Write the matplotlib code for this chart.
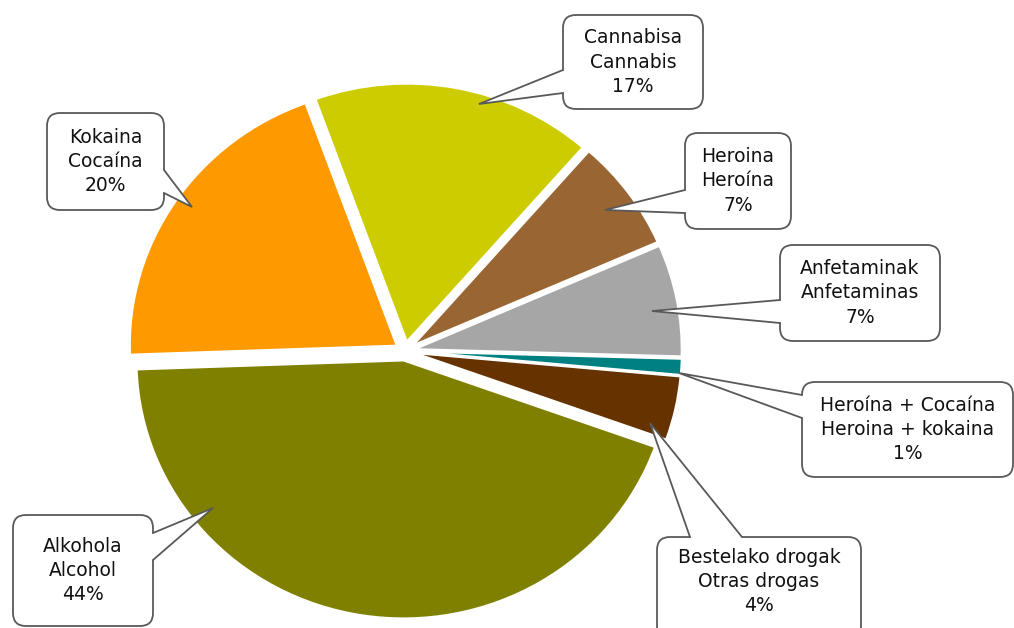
import matplotlib
matplotlib.use("Agg")
import matplotlib.pyplot as plt
from matplotlib.patches import FancyBboxPatch, Polygon

# data (clockwise from the top)
labels = ["Cannabisa\nCannabis", "Heroina\nHeroína", "Anfetaminak\nAnfetaminas",
          "Heroína + Cocaína\nHeroina + kokaina", "Bestelako drogak\nOtras drogas",
          "Alkohola\nAlcohol", "Kokaina\nCocaína"]
shares = [17, 7, 7, 1, 4, 44, 20]
colors = ["#CCCC00", "#996633", "#A6A6A6", "#008080", "#663300", "#808000", "#FF9900"]

# callout layout in pixels, origin at top left: box (left, top, right, bottom),
# two wedge base points on the box edge, and the tip inside the slice
W, H = 1014, 628
boxes = [(563, 15, 703, 109), (685, 133, 791, 229), (780, 245, 940, 341),
         (802, 382, 1013, 477), (657, 537, 861, 640), (13, 515, 153, 626),
         (47, 113, 164, 210)]
bases = [((563, 70), (563, 93)), ((685, 190), (685, 213)), ((780, 300), (780, 323)),
         ((802, 395), (802, 418)), ((690, 537), (742, 537)), ((153, 533), (153, 560)),
         ((164, 170), (164, 193))]
tips = [(479, 104), (605, 210), (652, 311), (679, 373), (650, 423), (213, 508), (192, 207)]

fig = plt.figure(figsize=(W / 100, H / 100), dpi=100)

# pie axes: the source pie is a touch wider than tall, so no equal aspect
cx, cy, sx, sy = 405, 351, 267, 258
pax = fig.add_axes([0, 0, 1, 1])
pax.pie(shares, colors=colors, radius=1, startangle=110, counterclock=False,
        explode=[0.037] * len(shares),
        wedgeprops=dict(edgecolor="white", linewidth=1.5), frame=True)
pax.set_aspect("auto")
pax.set_xlim(-cx / sx, (W - cx) / sx)
pax.set_ylim((cy - H) / sy, cy / sy)
pax.axis("off")

# overlay in pixel units for the callouts
ax = fig.add_axes([0, 0, 1, 1])
ax.set_xlim(0, W)
ax.set_ylim(0, H)
ax.axis("off")

edge = "#595959"
for lab, pct, (l, t, r, b), (p1, p2), tip in zip(labels, shares, boxes, bases, tips):
    box = FancyBboxPatch((l, H - b), r - l, b - t,
                         boxstyle="round,pad=0,rounding_size=13",
                         facecolor="white", edgecolor=edge, linewidth=1.3, zorder=5)
    ax.add_patch(box)
    pts = [(p1[0], H - p1[1]), (tip[0], H - tip[1]), (p2[0], H - p2[1])]
    # white fill hides the box border under the wedge base
    mx = (l + r) / 2
    my = H - (t + b) / 2
    inner = [(x + (mx - x) * 0.02, y + (my - y) * 0.02) for x, y in (pts[0], pts[2])]
    ax.add_patch(Polygon([pts[0], pts[1], pts[2], inner[1], inner[0]], closed=True,
                         facecolor="white", edgecolor="none", zorder=6))
    ax.plot([p[0] for p in pts], [p[1] for p in pts], color=edge, lw=1.3,
            solid_joinstyle="miter", zorder=7)
    ax.text(mx, H - (t + min(b, 626)) / 2, f"{lab}\n{pct}%",
            ha="center", va="center", fontsize=13.5, linespacing=1.35,
            color="#111111", zorder=8)

fig.savefig("out.png", dpi=100)
